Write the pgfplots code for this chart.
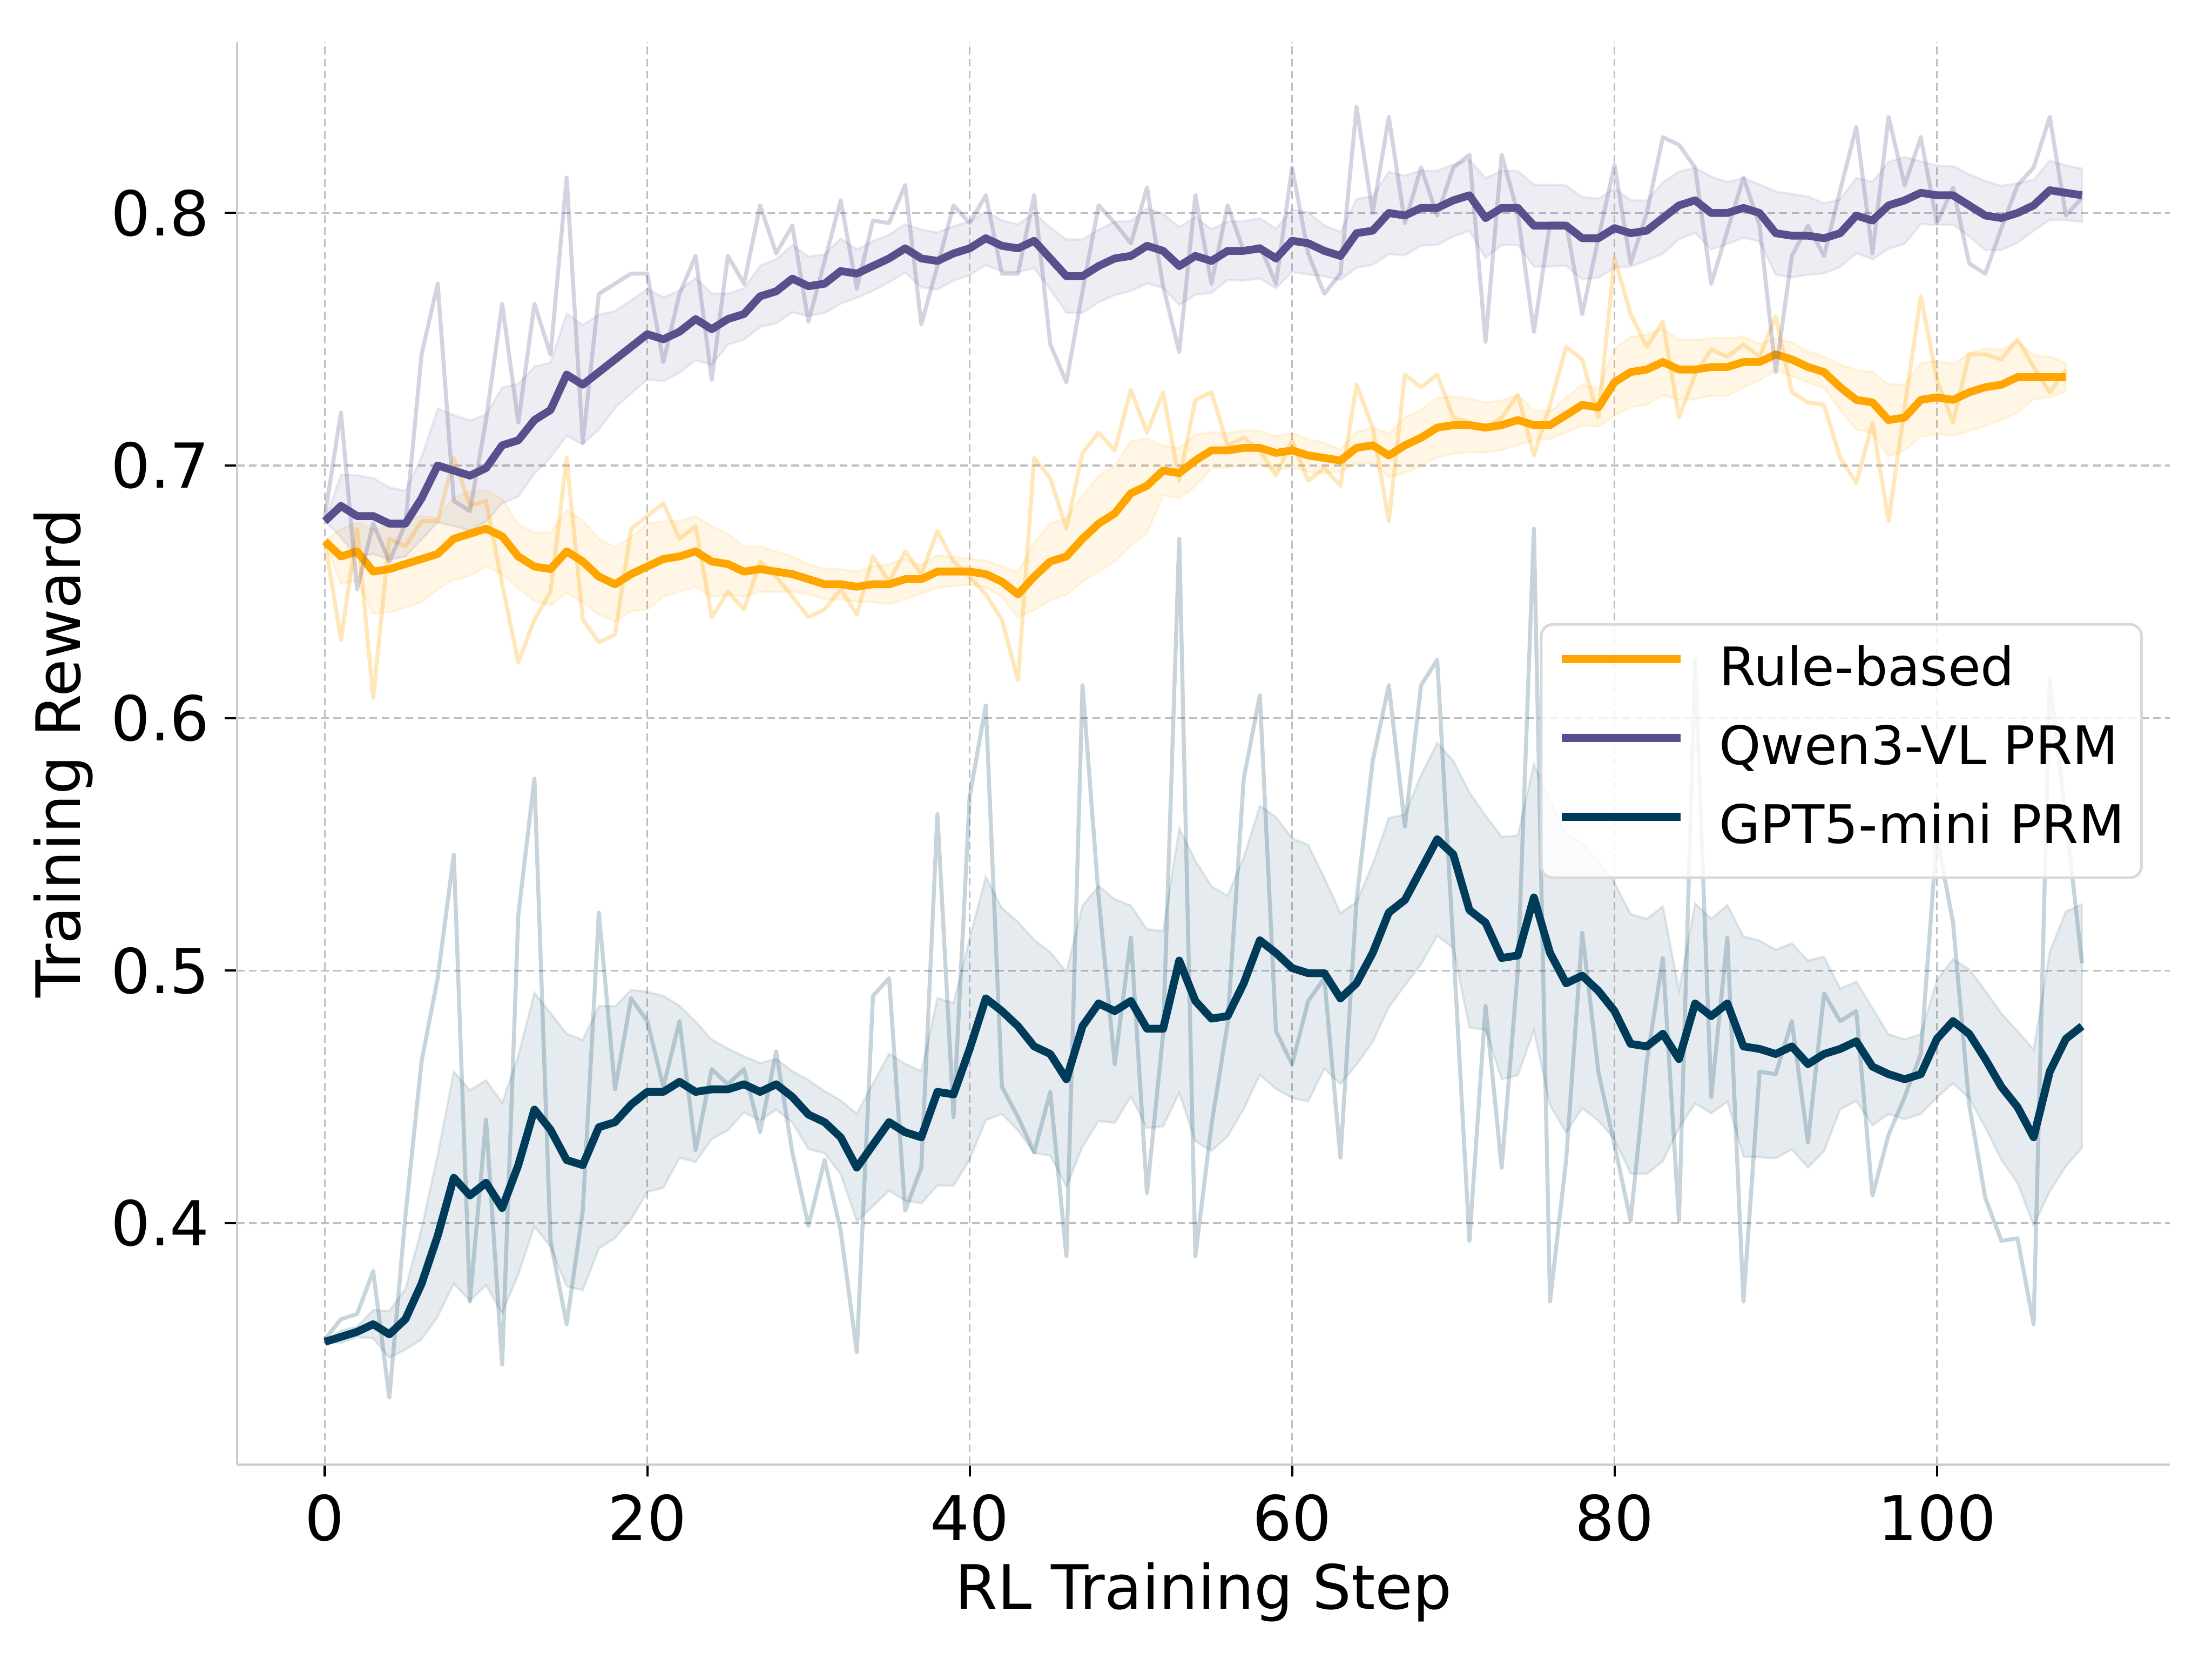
\documentclass[border=0pt]{standalone}
\usepackage{fontspec}
\setmainfont{DejaVu Sans}
\usepackage{pgfplots}
\usepackage{pgfplotstable}
\usepgfplotslibrary{fillbetween}
\pgfplotsset{compat=1.18}

\definecolor{cRule}{RGB}{255,165,0}
\definecolor{cQwen}{RGB}{88,80,141}
\definecolor{cGpt}{RGB}{0,60,90}

% x: step, r: raw reward, s: smoothed reward, w: half-width of the band
\pgfplotstableread{
x r s w
0 0.670 0.670 0.0000
1 0.631 0.664 0.0110
2 0.675 0.666 0.0114
3 0.608 0.658 0.0167
4 0.671 0.659 0.0170
5 0.668 0.661 0.0173
6 0.678 0.663 0.0170
7 0.678 0.665 0.0140
8 0.703 0.671 0.0163
9 0.684 0.673 0.0167
10 0.686 0.675 0.0150
11 0.653 0.672 0.0150
12 0.622 0.664 0.0126
13 0.639 0.660 0.0136
14 0.650 0.659 0.0144
15 0.703 0.666 0.0163
16 0.639 0.662 0.0163
17 0.630 0.656 0.0150
18 0.633 0.653 0.0147
19 0.675 0.657 0.0147
20 0.680 0.660 0.0170
21 0.685 0.663 0.0150
22 0.671 0.664 0.0140
23 0.676 0.666 0.0140
24 0.640 0.662 0.0140
25 0.650 0.661 0.0120
26 0.643 0.658 0.0100
27 0.662 0.659 0.0090
28 0.656 0.658 0.0080
29 0.648 0.657 0.0070
30 0.640 0.655 0.0060
31 0.643 0.653 0.0060
32 0.651 0.653 0.0060
33 0.641 0.652 0.0060
34 0.664 0.653 0.0070
35 0.654 0.653 0.0080
36 0.666 0.655 0.0080
37 0.657 0.655 0.0057
38 0.674 0.658 0.0065
39 0.662 0.658 0.0057
40 0.656 0.658 0.0052
41 0.649 0.657 0.0054
42 0.639 0.654 0.0060
43 0.615 0.649 0.0090
44 0.703 0.656 0.0134
45 0.695 0.662 0.0152
46 0.675 0.664 0.0152
47 0.705 0.671 0.0170
48 0.713 0.677 0.0190
49 0.706 0.681 0.0190
50 0.730 0.689 0.0206
51 0.713 0.692 0.0188
52 0.729 0.698 0.0098
53 0.694 0.697 0.0100
54 0.726 0.702 0.0103
55 0.729 0.706 0.0072
56 0.708 0.706 0.0069
57 0.711 0.707 0.0069
58 0.706 0.707 0.0067
59 0.696 0.705 0.0067
60 0.710 0.706 0.0069
61 0.694 0.704 0.0065
62 0.699 0.703 0.0060
63 0.692 0.702 0.0044
64 0.732 0.707 0.0062
65 0.715 0.708 0.0072
66 0.678 0.704 0.0087
67 0.736 0.708 0.0110
68 0.731 0.711 0.0111
69 0.736 0.715 0.0119
70 0.719 0.716 0.0114
71 0.717 0.716 0.0106
72 0.715 0.715 0.0100
73 0.719 0.716 0.0098
74 0.728 0.718 0.0100
75 0.704 0.716 0.0059
76 0.724 0.716 0.0054
77 0.747 0.720 0.0069
78 0.742 0.724 0.0082
79 0.719 0.723 0.0075
80 0.782 0.733 0.0134
81 0.760 0.737 0.0140
82 0.747 0.738 0.0139
83 0.757 0.741 0.0132
84 0.719 0.738 0.0119
85 0.736 0.738 0.0118
86 0.746 0.739 0.0114
87 0.743 0.739 0.0114
88 0.748 0.741 0.0101
89 0.743 0.741 0.0072
90 0.759 0.744 0.0062
91 0.729 0.742 0.0067
92 0.725 0.739 0.0062
93 0.724 0.737 0.0062
94 0.703 0.731 0.0090
95 0.693 0.726 0.0118
96 0.717 0.725 0.0121
97 0.678 0.718 0.0142
98 0.723 0.719 0.0131
99 0.767 0.726 0.0145
100 0.734 0.727 0.0145
101 0.717 0.726 0.0142
102 0.744 0.729 0.0154
103 0.744 0.731 0.0154
104 0.742 0.732 0.0139
105 0.750 0.735 0.0141
106 0.739 0.735 0.0087
107 0.729 0.735 0.0080
108 0.738 0.735 0.0057
}\ruledata

\pgfplotstableread{
x r s w
0 0.680 0.678 0.0000
1 0.721 0.684 0.0124
2 0.651 0.680 0.0162
3 0.677 0.680 0.0150
4 0.662 0.677 0.0143
5 0.677 0.677 0.0130
6 0.744 0.687 0.0163
7 0.772 0.700 0.0225
8 0.686 0.698 0.0220
9 0.682 0.696 0.0218
10 0.718 0.699 0.0212
11 0.764 0.708 0.0229
12 0.717 0.710 0.0223
13 0.764 0.718 0.0212
14 0.744 0.722 0.0188
15 0.814 0.736 0.0242
16 0.709 0.732 0.0237
17 0.768 0.737 0.0227
18 0.772 0.742 0.0192
19 0.776 0.747 0.0184
20 0.776 0.752 0.0180
21 0.741 0.750 0.0166
22 0.768 0.753 0.0163
23 0.783 0.758 0.0163
24 0.734 0.754 0.0141
25 0.783 0.758 0.0101
26 0.772 0.760 0.0102
27 0.803 0.767 0.0121
28 0.784 0.769 0.0127
29 0.795 0.774 0.0133
30 0.757 0.771 0.0118
31 0.781 0.772 0.0116
32 0.805 0.777 0.0129
33 0.770 0.776 0.0096
34 0.797 0.779 0.0098
35 0.796 0.782 0.0094
36 0.811 0.786 0.0096
37 0.756 0.782 0.0114
38 0.779 0.781 0.0113
39 0.803 0.784 0.0108
40 0.796 0.786 0.0106
41 0.807 0.790 0.0106
42 0.776 0.787 0.0101
43 0.776 0.786 0.0095
44 0.807 0.789 0.0109
45 0.748 0.782 0.0123
46 0.733 0.775 0.0145
47 0.769 0.775 0.0145
48 0.803 0.779 0.0144
49 0.796 0.782 0.0145
50 0.788 0.783 0.0139
51 0.810 0.787 0.0149
52 0.771 0.785 0.0147
53 0.745 0.779 0.0154
54 0.807 0.783 0.0154
55 0.772 0.781 0.0126
56 0.803 0.785 0.0116
57 0.785 0.785 0.0118
58 0.787 0.786 0.0119
59 0.772 0.782 0.0118
60 0.818 0.789 0.0124
61 0.784 0.788 0.0123
62 0.768 0.785 0.0101
63 0.776 0.783 0.0095
64 0.842 0.792 0.0136
65 0.800 0.793 0.0136
66 0.838 0.800 0.0163
67 0.796 0.799 0.0158
68 0.818 0.802 0.0149
69 0.799 0.802 0.0147
70 0.818 0.805 0.0142
71 0.823 0.807 0.0141
72 0.749 0.798 0.0158
73 0.823 0.802 0.0147
74 0.800 0.802 0.0147
75 0.753 0.795 0.0162
76 0.796 0.795 0.0162
77 0.796 0.795 0.0159
78 0.760 0.790 0.0163
79 0.790 0.790 0.0157
80 0.819 0.794 0.0157
81 0.780 0.792 0.0132
82 0.800 0.793 0.0118
83 0.830 0.798 0.0141
84 0.827 0.803 0.0134
85 0.818 0.805 0.0129
86 0.772 0.800 0.0144
87 0.793 0.800 0.0123
88 0.814 0.802 0.0118
89 0.795 0.800 0.0113
90 0.737 0.792 0.0165
91 0.783 0.791 0.0165
92 0.795 0.791 0.0155
93 0.783 0.790 0.0139
94 0.809 0.792 0.0134
95 0.834 0.799 0.0149
96 0.784 0.797 0.0154
97 0.838 0.803 0.0172
98 0.811 0.805 0.0172
99 0.830 0.808 0.0124
100 0.796 0.807 0.0118
101 0.810 0.807 0.0116
102 0.780 0.803 0.0123
103 0.776 0.799 0.0137
104 0.794 0.798 0.0127
105 0.811 0.800 0.0118
106 0.818 0.803 0.0101
107 0.838 0.809 0.0118
108 0.799 0.808 0.0108
109 0.806 0.807 0.0106
}\qwendata

\pgfplotstableread{
x r s w
0 0.354 0.353 0.0000
1 0.362 0.355 0.0025
2 0.364 0.357 0.0021
3 0.381 0.360 0.0056
4 0.331 0.356 0.0093
5 0.403 0.362 0.0120
6 0.464 0.376 0.0220
7 0.497 0.395 0.0320
8 0.546 0.418 0.0420
9 0.369 0.411 0.0417
10 0.441 0.416 0.0406
11 0.344 0.406 0.0417
12 0.522 0.423 0.0433
13 0.576 0.445 0.0463
14 0.393 0.437 0.0463
15 0.360 0.425 0.0500
16 0.405 0.423 0.0496
17 0.523 0.438 0.0480
18 0.453 0.440 0.0459
19 0.489 0.447 0.0454
20 0.480 0.452 0.0396
21 0.454 0.452 0.0380
22 0.480 0.456 0.0301
23 0.429 0.452 0.0278
24 0.461 0.453 0.0197
25 0.455 0.453 0.0162
26 0.461 0.455 0.0111
27 0.436 0.452 0.0114
28 0.468 0.455 0.0100
29 0.428 0.450 0.0102
30 0.399 0.443 0.0137
31 0.425 0.440 0.0123
32 0.397 0.434 0.0146
33 0.349 0.422 0.0213
34 0.490 0.431 0.0243
35 0.497 0.440 0.0271
36 0.405 0.436 0.0271
37 0.422 0.434 0.0262
38 0.562 0.452 0.0371
39 0.442 0.451 0.0362
40 0.569 0.469 0.0438
41 0.605 0.489 0.0482
42 0.454 0.484 0.0408
43 0.442 0.478 0.0413
44 0.428 0.470 0.0422
45 0.452 0.467 0.0403
46 0.387 0.457 0.0426
47 0.613 0.478 0.0477
48 0.529 0.487 0.0466
49 0.463 0.484 0.0443
50 0.513 0.488 0.0378
51 0.412 0.477 0.0394
52 0.475 0.477 0.0387
53 0.671 0.504 0.0524
54 0.387 0.488 0.0556
55 0.439 0.481 0.0524
56 0.479 0.482 0.0477
57 0.576 0.495 0.0498
58 0.609 0.512 0.0533
59 0.476 0.507 0.0538
60 0.463 0.501 0.0514
61 0.488 0.499 0.0508
62 0.497 0.499 0.0378
63 0.426 0.489 0.0338
64 0.528 0.495 0.0322
65 0.583 0.507 0.0352
66 0.613 0.523 0.0375
67 0.557 0.528 0.0338
68 0.613 0.540 0.0375
69 0.623 0.552 0.0382
70 0.510 0.546 0.0371
71 0.393 0.524 0.0466
72 0.486 0.519 0.0424
73 0.422 0.505 0.0480
74 0.500 0.506 0.0475
75 0.675 0.529 0.0528
76 0.369 0.507 0.0603
77 0.425 0.495 0.0591
78 0.515 0.498 0.0524
79 0.460 0.492 0.0514
80 0.431 0.484 0.0508
81 0.401 0.471 0.0514
82 0.464 0.470 0.0505
83 0.505 0.475 0.0505
84 0.401 0.465 0.0273
85 0.623 0.487 0.0396
86 0.450 0.482 0.0385
87 0.513 0.487 0.0389
88 0.369 0.470 0.0436
89 0.460 0.469 0.0429
90 0.459 0.467 0.0413
91 0.480 0.470 0.0408
92 0.432 0.463 0.0410
93 0.491 0.467 0.0385
94 0.480 0.469 0.0239
95 0.484 0.472 0.0236
96 0.411 0.462 0.0232
97 0.435 0.459 0.0158
98 0.450 0.457 0.0158
99 0.467 0.459 0.0158
100 0.553 0.473 0.0232
101 0.519 0.480 0.0246
102 0.447 0.475 0.0255
103 0.410 0.465 0.0271
104 0.393 0.454 0.0290
105 0.394 0.446 0.0301
106 0.360 0.434 0.0348
107 0.615 0.460 0.0475
108 0.560 0.473 0.0505
109 0.503 0.478 0.0482
}\gptdata

\begin{document}
\begin{tikzpicture}
\begin{axis}[
  at={(0pt,0pt)}, anchor=south west,
  scale only axis, width=505.2pt, height=371.77pt,
  xmin=-5.45, xmax=114.45, ymin=0.3045, ymax=0.8677,
  axis lines=left,
  axis line style={-, draw=gray!40, line width=0.57pt},
  tick align=outside, major tick length=3.2pt,
  tick style={draw=black, line width=0.57pt},
  xtick={0,20,40,60,80,100},
  ytick={0.4,0.5,0.6,0.7,0.8},
  /pgf/number format/assume math mode=true,
  yticklabel style={/pgf/number format/fixed, /pgf/number format/fixed zerofill, /pgf/number format/precision=1},
  ticklabel style={font=\fontsize{16.2}{19}\selectfont, inner sep=0pt},
  xticklabel style={yshift=-4.4pt},
  yticklabel style={xshift=-3.8pt},
  grid=major,
  x grid style={draw=gray!50, line width=0.5pt, dash pattern=on 2.0pt off 1.15pt},
  y grid style={draw=gray!50, line width=0.5pt, dash pattern=on 2.0pt off 1.15pt},
  xlabel={RL Training Step}, ylabel={Training Reward},
  label style={font=\fontsize{16}{19}\selectfont},
  xlabel style={at={(axis description cs:0.5,-0.090)}, anchor=center},
  ylabel style={at={(axis description cs:-0.0898,0.5)}, anchor=center},
  legend cell align=left,
  legend image code/.code={\draw[#1] (0pt,3.4pt) -- (31pt,3.4pt);},
  legend style={at={(axis description cs:0.986,0.5015)}, anchor=east,
    draw=gray!30, line width=0.7pt, rounded corners=3pt,
    fill=white, fill opacity=0.8, text opacity=1,
    font=\fontsize{13.9}{16}\selectfont,
    inner xsep=4.4pt, inner ysep=6pt, row sep=7.6pt, column sep=9pt,
    nodes={inner sep=0pt, text height=10pt, text depth=3pt}},
]

% shaded bands (smoothed value +/- half-width)
\addplot[draw=none, name path=RU, forget plot] table[x=x, y expr=\thisrow{s}+\thisrow{w}] {\ruledata};
\addplot[draw=none, name path=RL, forget plot] table[x=x, y expr=\thisrow{s}-\thisrow{w}] {\ruledata};
\addplot[fill=cRule, fill opacity=0.1, draw=cRule, draw opacity=0.1, line width=0.6pt, forget plot] fill between[of=RU and RL];

\addplot[draw=none, name path=QU, forget plot] table[x=x, y expr=\thisrow{s}+\thisrow{w}] {\qwendata};
\addplot[draw=none, name path=QL, forget plot] table[x=x, y expr=\thisrow{s}-\thisrow{w}] {\qwendata};
\addplot[fill=cQwen, fill opacity=0.1, draw=cQwen, draw opacity=0.1, line width=0.6pt, forget plot] fill between[of=QU and QL];

\addplot[draw=none, name path=GU, forget plot] table[x=x, y expr=\thisrow{s}+\thisrow{w}] {\gptdata};
\addplot[draw=none, name path=GL, forget plot] table[x=x, y expr=\thisrow{s}-\thisrow{w}] {\gptdata};
\addplot[fill=cGpt, fill opacity=0.1, draw=cGpt, draw opacity=0.1, line width=0.6pt, forget plot] fill between[of=GU and GL];

% raw and smoothed curves
\addplot[cRule, opacity=0.27, line width=1.05pt, line join=round, forget plot] table[x=x, y=r] {\ruledata};
\addplot[cRule, line width=2.05pt, line join=round] table[x=x, y=s] {\ruledata};
\addlegendentry{Rule-based}

\addplot[cQwen, opacity=0.25, line width=1.05pt, line join=round, forget plot] table[x=x, y=r] {\qwendata};
\addplot[cQwen, line width=2.05pt, line join=round] table[x=x, y=s] {\qwendata};
\addlegendentry{Qwen3-VL PRM}

\addplot[cGpt, opacity=0.22, line width=1.05pt, line join=round, forget plot] table[x=x, y=r] {\gptdata};
\addplot[cGpt, line width=2.05pt, line join=round] table[x=x, y=s] {\gptdata};
\addlegendentry{GPT5-mini PRM}

\end{axis}
\pgfresetboundingbox
\path[use as bounding box] (-61.94pt,-50.86pt) rectangle (516.22pt,382.75pt);
\end{tikzpicture}
\end{document}
